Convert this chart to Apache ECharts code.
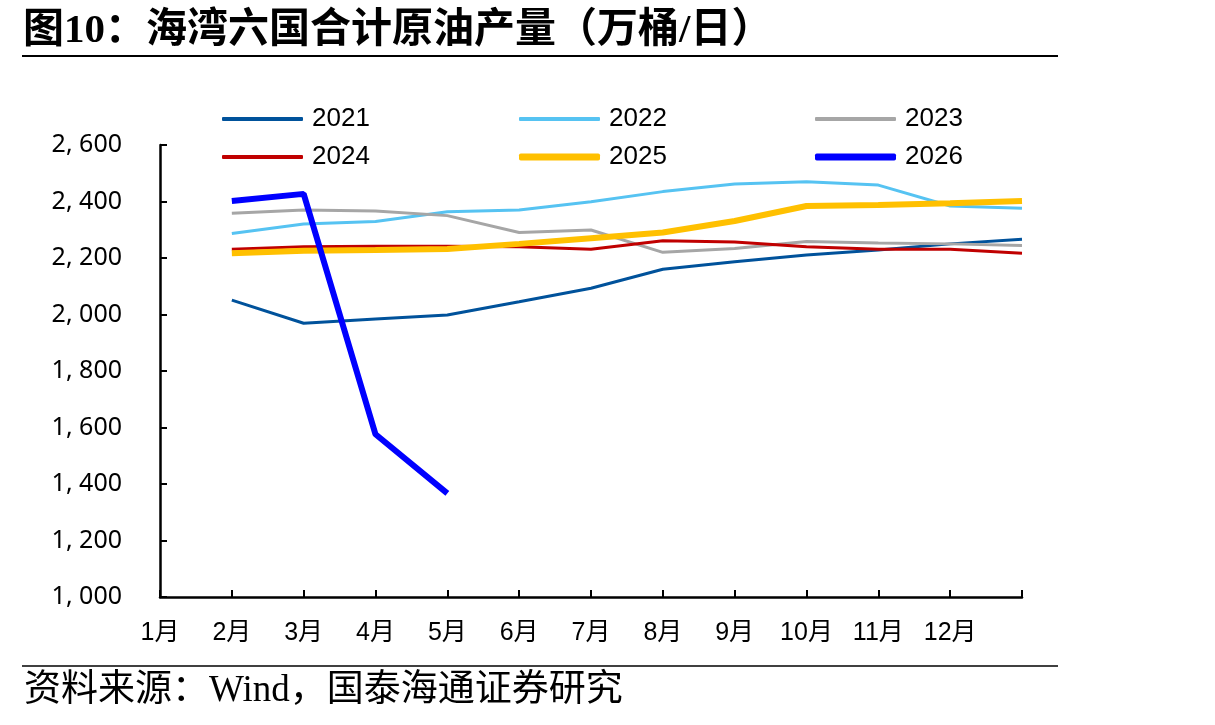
<!DOCTYPE html>
<html style="height: 100%">

<head>
  <meta charset="utf-8">
  <title>海湾六国合计原油产量</title>
</head>

<body style="height: 100%; margin: 0; background: #fff">
  <div id="container" style="width: 1215px; height: 725px"></div>
  <script type="text/javascript" src="https://cdn.jsdelivr.net/npm/echarts@6/dist/echarts.min.js"></script>
  <script type="text/javascript">
    // 月份（最后一格只占位，数据从 2月 那格开始画，与原图一致）
    var months = ['1月', '2月', '3月', '4月', '5月', '6月', '7月', '8月', '9月', '10月', '11月', '12月', ''];
    var years = ['2021', '2022', '2023', '2024', '2025', '2026'];

    var y2021 = [null, 2051, 1969, 1984, 1998, 2045, 2093, 2160, 2187, 2211, 2228, 2250, 2266];
    var y2022 = [null, 2287, 2320, 2329, 2364, 2370, 2399, 2435, 2462, 2470, 2458, 2384, 2376];
    var y2023 = [null, 2358, 2370, 2366, 2350, 2290, 2299, 2220, 2234, 2258, 2253, 2250, 2244];
    var y2024 = [null, 2231, 2240, 2242, 2242, 2240, 2231, 2261, 2257, 2240, 2231, 2231, 2217];
    var y2025 = [null, 2217, 2226, 2228, 2232, 2250, 2270, 2290, 2331, 2384, 2388, 2394, 2402];
    var y2026 = [null, 2402, 2427, 1576, 1367];

    var colors = ['#00529B', '#56C3F2', '#A6A6A6', '#C00000', '#FFC000', '#0000FF'];
    var widths = [3, 3, 3, 3, 6, 6];
    var values = [y2021, y2022, y2023, y2024, y2025, y2026];

    var dom = document.getElementById("container");
    var myChart = echarts.init(dom);

    // 图例：三列两行，每项单独放，线条粗细跟原图一样
    var legendLeft = [222, 519, 815];
    var legendRow = [117, 155];
    var legendThick = [4, 4, 4, 4, 7, 7];
    var legends = years.map(function(name, i) {
      var h = legendThick[i];
      return {
        left: legendLeft[i % 3],
        top: legendRow[Math.floor(i / 3)] - 11,
        padding: 0,
        icon: 'roundRect',
        itemWidth: 81,
        itemHeight: h,
        data: [name],
        textStyle: {
          fontFamily: "'Liberation Sans Narrow', 'Liberation Sans', 'Noto Sans CJK SC'",
          fontSize: 26,
          color: '#000',
          padding: [0, 0, 0, 4]
        }
      };
    });

    var series = years.map(function(name, i) {
      return {
        name: name,
        type: 'line',
        data: values[i],
        symbol: 'none',
        smooth: false,
        lineStyle: { color: colors[i], width: widths[i] },
        itemStyle: { color: colors[i] },
        z: 2 + i
      };
    });

    var option = {
      backgroundColor: '#fff',
      animation: false,
      title: {
        text: '图10：海湾六国合计原油产量（万桶/日）',
        left: 18,
        top: 6,
        textStyle: {
          fontFamily: "'Liberation Serif', 'Noto Sans CJK SC'",
          fontWeight: 'bold',
          fontSize: 41,
          color: '#000'
        }
      },
      legend: legends,
      grid: {
        left: 160,
        right: 193,
        top: 145,
        bottom: 128,
        containLabel: false
      },
      xAxis: {
        type: 'category',
        data: months,
        boundaryGap: false,
        axisLine: { lineStyle: { color: '#000', width: 2.5 } },
        axisTick: { inside: true, length: 7, lineStyle: { color: '#000', width: 2 } },
        axisLabel: {
          interval: 0,
          margin: 24,
          fontSize: 25,
          color: '#000',
          fontFamily: "'Liberation Sans Narrow', 'Liberation Sans', 'Noto Sans CJK SC'"
        },
        splitLine: { show: false }
      },
      yAxis: {
        type: 'value',
        min: 1000,
        max: 2600,
        interval: 200,
        axisLine: { show: true, lineStyle: { color: '#000', width: 2.5 } },
        axisTick: { show: true, inside: true, length: 7, lineStyle: { color: '#000', width: 2 } },
        axisLabel: {
          margin: 38,
          fontSize: 25,
          color: '#000',
          fontFamily: "'Noto Sans', 'DejaVu Sans'",
          formatter: function(v) {
            var s = String(v % 1000);
            while (s.length < 3) s = '0' + s;
            return Math.floor(v / 1000) + ', ' + s;
          }
        },
        splitLine: { show: false }
      },
      series: series,
      graphic: [
        {
          type: 'line',
          shape: { x1: 22, y1: 56, x2: 1058, y2: 56 },
          style: { stroke: '#000', lineWidth: 2 }
        },
        {
          type: 'line',
          shape: { x1: 22, y1: 666, x2: 1058, y2: 666 },
          style: { stroke: '#000', lineWidth: 1.5 }
        },
        {
          type: 'text',
          left: 24,
          top: 673,
          style: {
            text: '资料来源：Wind，国泰海通证券研究',
            fontFamily: "'Liberation Serif', 'Noto Sans CJK SC'",
            fontSize: 37,
            fill: '#000'
          }
        }
      ]
    };

    if (option && typeof option === "object") {
      myChart.setOption(option, true);
    }
  </script>
</body>

</html>
